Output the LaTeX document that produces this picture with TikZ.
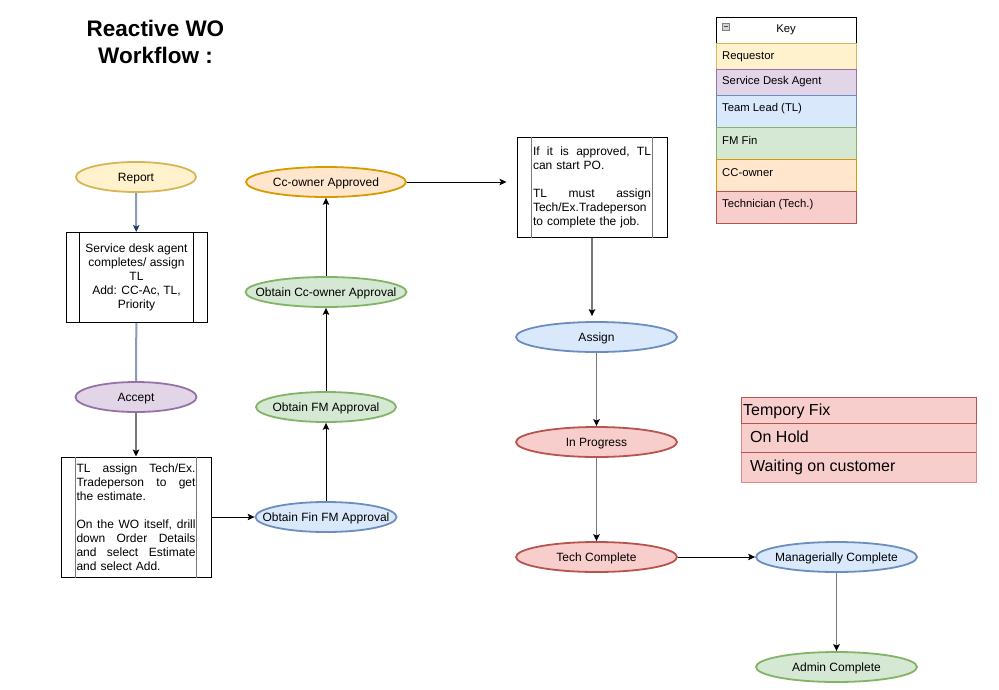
\documentclass[tikz,border=0pt]{standalone}
\usepackage{fontspec}
\setmainfont{Liberation Sans}
\usetikzlibrary{shapes.geometric,arrows.meta}
\definecolor{yfill}{HTML}{FFF2CC}\definecolor{ydraw}{HTML}{D6B656}
\definecolor{pfill}{HTML}{E1D5E7}\definecolor{pdraw}{HTML}{9673A6}
\definecolor{bfill}{HTML}{DAE8FC}\definecolor{bdraw}{HTML}{6C8EBF}
\definecolor{gfill}{HTML}{D5E8D4}\definecolor{gdraw}{HTML}{82B366}
\definecolor{ofill}{HTML}{FFE6CC}\definecolor{odraw}{HTML}{D79B00}
\definecolor{rfill}{HTML}{F8CECC}\definecolor{rdraw}{HTML}{B85450}
\definecolor{rlight}{HTML}{D98A86}
\definecolor{lgray}{HTML}{7A7A7A}
\definecolor{slate}{HTML}{8A9CB8}
\definecolor{navy}{HTML}{1F3A60}
\newcommand\zw[1]{\makebox[0pt]{#1}}
\newcommand\jline[2]{\leavevmode\hbox to #1{#2}}
\begin{document}
\begin{tikzpicture}[x=1pt,y=-1pt,
  txt/.style={font=\fontsize{12}{14}\selectfont, text=black},
  ell/.style={ellipse, line width=1.8pt, minimum width=#1, minimum height=30pt, inner sep=0pt, text height=8.6pt, text depth=0pt, txt},
  ell/.default=161pt,
  yel/.style={fill=yfill, draw=ydraw},
  pur/.style={fill=pfill, draw=pdraw},
  blu/.style={fill=bfill, draw=bdraw},
  grn/.style={fill=gfill, draw=gdraw},
  org/.style={fill=ofill, draw=odraw},
  red/.style={fill=rfill, draw=rdraw},
  proc/.style={rectangle, draw=black, line width=1pt, fill=white, inner xsep=0pt, inner ysep=2pt, txt},
  innerline/.style={draw=lgray, line width=1.6pt},
  blk/.style={draw=black, line width=1pt, -{Stealth[length=7pt,width=6.5pt,inset=1.5pt,black]}},
  gline/.style={draw=lgray, line width=1.8pt, -{Stealth[length=7pt,width=6.5pt,inset=1.5pt,black]}},
  sline/.style={draw=slate, line width=2pt},
  keytxt/.style={font=\fontsize{11.3}{13}\selectfont, anchor=west, inner sep=0pt, text=black},
  listtxt/.style={font=\fontsize{16}{19}\selectfont, anchor=west, inner sep=0pt, text=black}
]
\useasboundingbox[fill=white] (0,0) rectangle (999,689);

% title
\node[align=center, font=\bfseries\fontsize{22.5}{27}\selectfont] (title) at (155.5,42) {Reactive WO\\Workflow :};

% left column
\node[ell=120pt, yel] (report) at (136,177) {\zw{Report}};
\node[proc, minimum width=141pt, minimum height=90pt, align=center] (sd) at (136.5,277.5)
  {Service desk agent\\completes/ assign\\TL\\Add: CC-Ac, TL,\\Priority};
\draw[line width=1pt] ([xshift=14pt]sd.north west) -- ([xshift=14pt]sd.south west);
\draw[line width=1pt] ([xshift=-14pt]sd.north east) -- ([xshift=-14pt]sd.south east);
\node[ell=121pt, pur] (accept) at (136,397) {\zw{Accept}};
\node[proc, minimum width=150pt, minimum height=120pt, text width=119pt, align=left] (tl) at (136,517)
  {\jline{119pt}{TL\hfill assign\hfill Tech/Ex.}\\
   \jline{119pt}{Tradeperson\hfill to\hfill get}\\
   the estimate.\\[14pt]
   \jline{119pt}{On\hfill the\hfill WO\hfill itself,\hfill drill}\\
   \jline{119pt}{down\hfill Order\hfill Details}\\
   \jline{119pt}{and\hfill select\hfill Estimate}\\
   and select Add.};
\draw[innerline] ([xshift=15pt]tl.north west) -- ([xshift=15pt]tl.south west);
\draw[innerline] ([xshift=-15pt]tl.north east) -- ([xshift=-15pt]tl.south east);

% middle column
\node[ell=141pt, blu] (finfm) at (326,517) {\zw{Obtain Fin FM Approval}};
\node[ell=140pt, grn] (fm) at (326,407) {\zw{Obtain FM Approval}};
\node[ell=161pt, grn] (cca) at (326,292) {\zw{Obtain Cc-owner Approval}};
\node[ell=160pt, org] (ccd) at (326,182) {\zw{Cc-owner Approved}};

% right column
\node[proc, minimum width=150pt, minimum height=100pt, text width=118pt, align=left] (po) at (592,187)
  {\jline{118pt}{If\hfill it\hfill is\hfill approved,\hfill TL}\\
   can start PO.\\[14pt]
   \jline{118pt}{TL\hfill must\hfill assign}\\
   Tech/Ex.Tradeperson\\
   to complete the job.};
\draw[innerline] ([xshift=15pt]po.north west) -- ([xshift=15pt]po.south west);
\draw[innerline] ([xshift=-15pt]po.north east) -- ([xshift=-15pt]po.south east);
\node[ell, blu] (assign) at (596.5,337) {\zw{Assign}};
\node[ell, red] (inprog) at (596.5,442) {\zw{In Progress}};
\node[ell, red] (techc) at (596.5,557) {\zw{Tech Complete}};
\node[ell, blu] (mgr) at (836.5,557) {\zw{Managerially Complete}};
\node[ell, grn] (admin) at (836.5,667) {\zw{Admin Complete}};

% connectors
\draw[sline, -{Stealth[length=7pt,width=6.5pt,inset=1.5pt,navy]}] (report) -- (sd);
\draw[sline] (sd) -- (accept);
\draw[gline] (accept) -- (tl);
\draw[blk] (tl) -- (finfm);
\draw[blk] (finfm) -- (fm);
\draw[blk] (fm) -- (cca);
\draw[blk] (cca) -- (ccd);
\draw[blk, shorten >=10pt] (ccd.east) -- (ccd.east -| po.west);
\draw[gline, shorten >=5pt] (po.south) -- (po.south |- assign.north);
\draw[gline] (assign) -- (inprog);
\draw[gline] (inprog) -- (techc);
\draw[blk] (techc) -- (mgr);
\draw[gline] (mgr) -- (admin);

% key
\draw[fill=white, draw=black, line width=1pt] (716,17) rectangle (856,43);
\draw[fill=gray!35, draw=gray, line width=0.6pt] (722,23) rectangle (729,30);
\draw[line width=0.8pt, draw=black!70] (723.5,26.5) -- (727.5,26.5);
\node[keytxt, anchor=center] (keyt) at (786,30) {Key};
\draw[yel, line width=1pt] (716,43) rectangle (856,69);
\draw[pur, line width=1pt] (716,69) rectangle (856,95);
\draw[blu, line width=1pt] (716,95) rectangle (856,127);
\draw[grn, line width=1pt] (716,127) rectangle (856,159);
\draw[org, line width=1pt] (716,159) rectangle (856,191);
\draw[red, line width=1pt] (716,191) rectangle (856,223);
\node[keytxt] (k1) at (722,56.5) {Requestor};
\node[keytxt] (k2) at (722,82) {Service Desk Agent};
\node[keytxt] (k3) at (722,108.5) {Team Lead (TL)};
\node[keytxt] (k4) at (722,140.5) {FM Fin};
\node[keytxt] (k5) at (722,172.5) {CC-owner};
\node[keytxt] (k6) at (722,204.5) {Technician (Tech.)};

% status list
\draw[fill=rfill, draw=rlight, line width=1pt] (741,397) rectangle (976,482);
\draw[draw=rdraw, line width=1pt] (741,397) rectangle (976,423);
\draw[draw=rdraw, line width=1pt] (741,452.5) -- (976,452.5);
\node[listtxt] (l1) at (743,411.5) {Tempory Fix};
\node[listtxt] (l2) at (750,437) {On Hold};
\node[listtxt] (l3) at (750,467.5) {Waiting on customer};
\end{tikzpicture}
\end{document}
